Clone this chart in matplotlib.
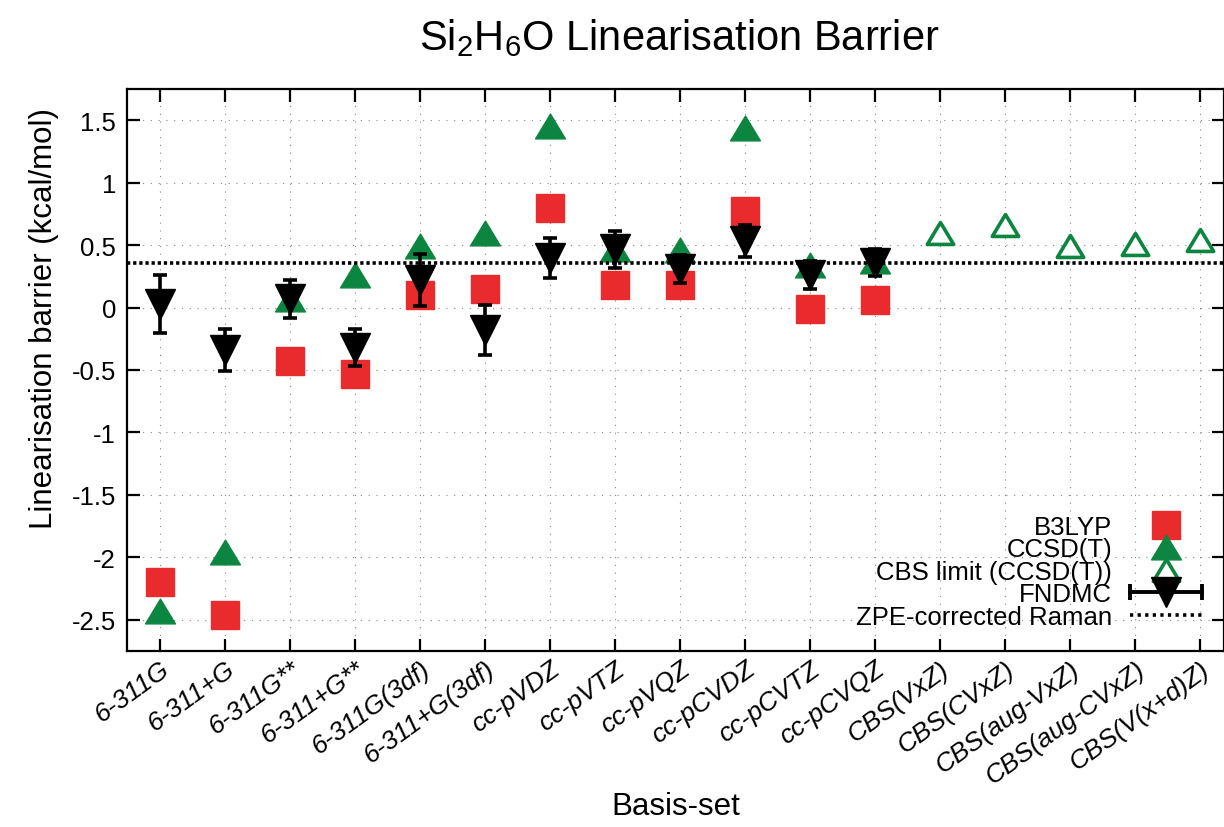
import matplotlib
matplotlib.use('Agg')
import matplotlib.pyplot as plt
from matplotlib.lines import Line2D
from matplotlib.path import Path
from matplotlib.legend_handler import HandlerLine2D, HandlerTuple

plt.rcParams['font.family'] = ['Liberation Sans', 'DejaVu Sans']
plt.rcParams['mathtext.fontset'] = 'custom'
plt.rcParams['mathtext.rm'] = 'Liberation Sans'
plt.rcParams['mathtext.it'] = 'Liberation Sans:italic'

basis_sets = ['6-311G', '6-311+G', '6-311G**', '6-311+G**', '6-311G(3df)', '6-311+G(3df)',
              'cc-pVDZ', 'cc-pVTZ', 'cc-pVQZ', 'cc-pCVDZ', 'cc-pCVTZ', 'cc-pCVQZ',
              'CBS(VxZ)', 'CBS(CVxZ)', 'CBS(aug-VxZ)', 'CBS(aug-CVxZ)', 'CBS(V(x+d)Z)']

# finite basis sets (first 12) and CBS extrapolations (last 5)
b3lyp = [-2.20, -2.46, -0.43, -0.53, 0.10, 0.15, 0.80, 0.18, 0.18, 0.77, -0.015, 0.06]
ccsdt = [-2.43, -1.96, 0.07, 0.26, 0.49, 0.60, 1.455, 0.47, 0.46, 1.44, 0.34, 0.37]
cbs_ccsdt = [0.60, 0.665, 0.49, 0.51, 0.54]
fndmc = [0.03, -0.34, 0.07, -0.32, 0.22, -0.18, 0.40, 0.465, 0.31, 0.535, 0.26, 0.36]
fndmc_err = [0.23, 0.17, 0.15, 0.15, 0.21, 0.20, 0.16, 0.15, 0.11, 0.13, 0.11, 0.107]
zpe_raman = 0.36

RED = '#ea2b2e'
GREEN = '#0c8540'

# gnuplot-like triangle: a bit flatter than matplotlib's
tri_up = Path([(0, 0.83), (-1, -0.83), (1, -0.83), (0, 0.83)],
              [Path.MOVETO, Path.LINETO, Path.LINETO, Path.CLOSEPOLY])

fig = plt.figure(figsize=(12.24, 8.28), dpi=100)
ax = fig.add_axes([127 / 1224, 1 - 652 / 828, 1097 / 1224, 562 / 828])

x_fin = list(range(len(b3lyp)))
x_cbs = list(range(len(b3lyp), len(basis_sets)))

ax.plot(x_fin, b3lyp, ls='none', marker='s', ms=20, color=RED, mec=RED, zorder=3)
ax.plot(x_fin, ccsdt, ls='none', marker=tri_up, ms=21.5, color=GREEN, mec=GREEN, zorder=4)
ax.plot(x_cbs, cbs_ccsdt, ls='none', marker=tri_up, ms=19, mfc='white', mec=GREEN, mew=2.6, zorder=4)
ax.axhline(zpe_raman, color='black', lw=2.6, ls=(0, (0.9, 0.8)), zorder=5)
ax.errorbar(x_fin, fndmc, yerr=fndmc_err, fmt='v', ms=21, color='black',
            elinewidth=2.6, capsize=4.8, capthick=2.6, zorder=6)

ax.set_xlim(-0.51, 16.37)
ax.set_ylim(-2.75, 1.75)
ax.set_xticks(range(len(basis_sets)))
ax.set_xticklabels(basis_sets, rotation=36, ha='right', va='top', rotation_mode='anchor',
                   fontstyle='italic', fontsize=19)
ax.set_yticks([-2.5, -2, -1.5, -1, -0.5, 0, 0.5, 1, 1.5])
ax.set_yticklabels(['-2.5', '-2', '-1.5', '-1', '-0.5', '0', '0.5', '1', '1.5'], fontsize=18.5)
ax.tick_params(direction='in', length=9, width=1.6, top=True, right=True, pad=8)
ax.tick_params(axis='x', pad=4)
ax.grid(True, color='#888888', lw=0.8, ls=(0, (1, 6)))
for sp in ax.spines.values():
    sp.set_linewidth(1.6)

ax.set_ylabel('Linearisation barrier (kcal/mol)', fontsize=22.5)
ax.yaxis.set_label_coords(-0.062, 0.593)
ax.set_xlabel('Basis-set', fontsize=22.5)
ax.xaxis.set_label_coords(0.5, -0.249)
fig.text(679 / 1224, 1 - 38 / 828, 'Si$_2$H$_6$O Linearisation Barrier', fontsize=30,
         ha='center', va='center')

# legend handles
h_b3 = Line2D([], [], ls='none', marker='s', ms=20, color=RED)
h_cc = Line2D([], [], ls='none', marker=tri_up, ms=21.5, color=GREEN)
h_cbs = Line2D([], [], ls='none', marker=tri_up, ms=19, mfc='white', mec=GREEN, mew=2.6)
h_bar = Line2D([], [], color='black', lw=2.8, marker='|', ms=11, mew=2.8)
h_tri = Line2D([], [], ls='none', marker='v', ms=21, color='black')
h_zpe = Line2D([], [], color='black', lw=2.6, ls=(0, (0.9, 1.2)))
leg = ax.legend([h_b3, h_cc, h_cbs, (h_bar, h_tri), h_zpe],
                ['B3LYP', 'CCSD(T)', 'CBS limit (CCSD(T))', 'FNDMC', 'ZPE-corrected Raman'],
                handler_map={tuple: HandlerTuple(ndivide=1),
                             h_bar: HandlerLine2D(numpoints=2, marker_pad=0)},
                loc='lower right', bbox_to_anchor=(0.98, 0.04), frameon=False,
                fontsize=18.5, markerfirst=False, borderpad=0, borderaxespad=0,
                labelspacing=-0.06, handlelength=2.8, handletextpad=0.7)

fig.savefig('out.png', dpi=100)
